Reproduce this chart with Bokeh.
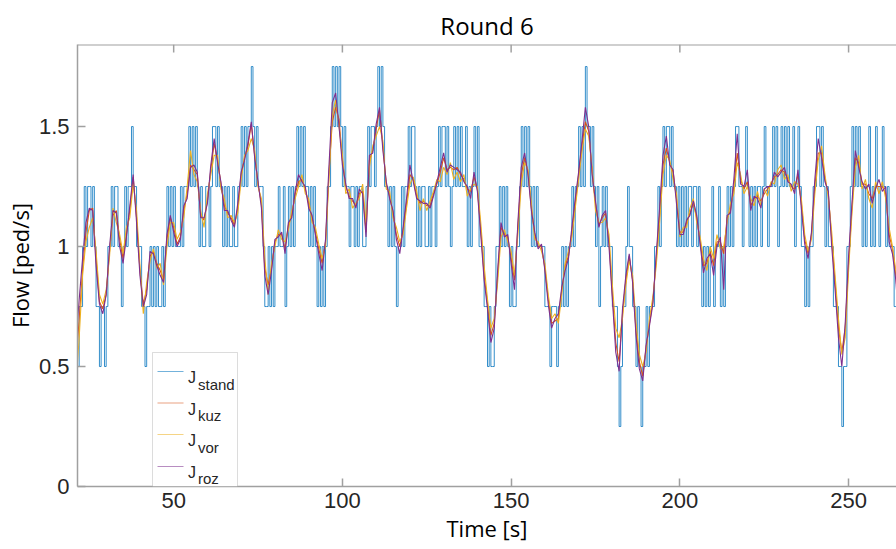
import numpy as np
from bokeh.plotting import figure
from bokeh.models import (Range1d, BoxAnnotation, Label, Span,
                          FixedTicker, NumeralTickFormatter)
from bokeh.embed import file_html
from bokeh.resources import INLINE

# ---------------- data ----------------
# smoothed flows, one value per second, t = 21 ... 265 s
t_smooth = list(range(21, 266))

J_kuz = [
    0.50, 0.70, 0.90, 1.06, 1.15, 1.16, 0.95, 0.77, 0.74, 0.80,
    0.98, 1.13, 1.15, 1.03, 0.95, 1.05, 1.15, 1.29, 1.12, 0.90,
    0.76, 0.82, 0.96, 0.98, 0.93, 0.90, 0.86, 1.03, 1.12, 1.08,
    1.01, 1.04, 1.15, 1.22, 1.34, 1.32, 1.30, 1.13, 1.11, 1.19,
    1.32, 1.43, 1.36, 1.26, 1.17, 1.14, 1.12, 1.09, 1.16, 1.30,
    1.37, 1.42, 1.51, 1.38, 1.26, 1.18, 0.91, 0.84, 0.91, 1.02,
    1.05, 1.05, 0.99, 1.09, 1.13, 1.22, 1.27, 1.28, 1.24, 1.18,
    1.12, 1.06, 0.99, 0.93, 1.02, 1.30, 1.52, 1.58, 1.53, 1.36,
    1.25, 1.21, 1.19, 1.17, 1.22, 1.23, 1.06, 1.36, 1.40, 1.49,
    1.57, 1.42, 1.26, 1.21, 1.14, 1.05, 1.00, 1.07, 1.18, 1.30,
    1.28, 1.21, 1.18, 1.19, 1.17, 1.17, 1.22, 1.26, 1.31, 1.37,
    1.32, 1.33, 1.32, 1.33, 1.30, 1.28, 1.24, 1.23, 1.29, 1.24,
    1.07, 0.88, 0.76, 0.63, 0.68, 0.88, 1.08, 1.05, 1.04, 0.95,
    0.86, 1.08, 1.30, 1.37, 1.31, 1.16, 1.05, 1.00, 1.00, 0.91,
    0.78, 0.68, 0.69, 0.70, 0.82, 0.92, 0.96, 1.06, 1.18, 1.30,
    1.42, 1.52, 1.48, 1.31, 1.18, 1.09, 1.12, 1.14, 1.02, 0.80,
    0.60, 0.52, 0.72, 0.86, 0.96, 0.86, 0.65, 0.52, 0.46, 0.58,
    0.68, 0.77, 0.95, 1.13, 1.34, 1.41, 1.35, 1.31, 1.20, 1.06,
    1.06, 1.10, 1.14, 1.18, 1.12, 1.02, 0.92, 0.93, 0.98, 0.92,
    1.02, 1.02, 0.97, 1.12, 1.15, 1.25, 1.39, 1.28, 1.24, 1.27,
    1.17, 1.20, 1.21, 1.19, 1.22, 1.24, 1.26, 1.29, 1.30, 1.32,
    1.31, 1.28, 1.25, 1.24, 1.30, 1.18, 1.03, 0.97, 1.05, 1.25,
    1.39, 1.39, 1.28, 1.22, 1.03, 0.85, 0.66, 0.56, 0.66, 0.93,
    1.16, 1.37, 1.35, 1.26, 1.26, 1.22, 1.20, 1.25, 1.25, 1.25,
    1.22, 1.05, 0.99, 0.88, 0.70,
]

J_vor = [
    0.42, 0.62, 0.88, 1.02, 1.08, 1.12, 0.98, 0.80, 0.76, 0.82,
    0.96, 1.16, 1.10, 1.05, 0.97, 1.08, 1.12, 1.26, 1.15, 0.92,
    0.72, 0.85, 0.94, 0.99, 0.91, 0.93, 0.84, 1.00, 1.10, 1.10,
    1.03, 1.06, 1.12, 1.25, 1.40, 1.30, 1.27, 1.15, 1.08, 1.22,
    1.30, 1.38, 1.38, 1.24, 1.20, 1.12, 1.13, 1.10, 1.14, 1.28,
    1.38, 1.40, 1.45, 1.40, 1.25, 1.20, 0.95, 0.80, 0.93, 1.00,
    1.07, 1.03, 1.02, 1.07, 1.15, 1.20, 1.25, 1.30, 1.22, 1.20,
    1.10, 1.08, 1.01, 0.95, 1.00, 1.28, 1.55, 1.61, 1.50, 1.38,
    1.22, 1.24, 1.16, 1.18, 1.20, 1.26, 1.10, 1.33, 1.42, 1.46,
    1.50, 1.44, 1.24, 1.23, 1.12, 1.08, 1.02, 1.05, 1.16, 1.26,
    1.29, 1.23, 1.15, 1.20, 1.15, 1.19, 1.23, 1.28, 1.27, 1.33,
    1.30, 1.35, 1.28, 1.31, 1.27, 1.30, 1.21, 1.24, 1.26, 1.25,
    1.10, 0.92, 0.78, 0.66, 0.70, 0.85, 1.04, 1.07, 1.02, 0.98,
    0.88, 1.05, 1.26, 1.35, 1.32, 1.18, 1.03, 1.02, 0.98, 0.93,
    0.80, 0.70, 0.72, 0.68, 0.80, 0.93, 0.98, 1.04, 1.16, 1.28,
    1.40, 1.49, 1.46, 1.33, 1.15, 1.10, 1.10, 1.12, 1.05, 0.84,
    0.66, 0.62, 0.70, 0.84, 0.94, 0.88, 0.68, 0.55, 0.50, 0.56,
    0.70, 0.79, 0.92, 1.10, 1.30, 1.38, 1.36, 1.28, 1.22, 1.04,
    1.08, 1.08, 1.16, 1.20, 1.10, 1.04, 0.95, 0.90, 1.00, 0.95,
    1.05, 0.99, 1.00, 1.10, 1.18, 1.22, 1.35, 1.30, 1.22, 1.25,
    1.20, 1.17, 1.23, 1.17, 1.24, 1.21, 1.27, 1.26, 1.32, 1.34,
    1.28, 1.30, 1.23, 1.27, 1.26, 1.20, 1.05, 0.98, 1.03, 1.22,
    1.36, 1.42, 1.30, 1.20, 1.06, 0.88, 0.70, 0.55, 0.62, 0.90,
    1.14, 1.33, 1.38, 1.24, 1.28, 1.20, 1.16, 1.27, 1.22, 1.27,
    1.20, 1.08, 1.00, 0.90, 0.74,
]

J_roz = [
    0.60, 0.78, 0.95, 1.10, 1.16, 1.15, 0.92, 0.76, 0.72, 0.80,
    1.00, 1.15, 1.14, 1.00, 0.93, 1.04, 1.17, 1.30, 1.10, 0.88,
    0.75, 0.80, 0.98, 0.97, 0.92, 0.88, 0.85, 1.05, 1.13, 1.06,
    1.00, 1.03, 1.17, 1.20, 1.33, 1.34, 1.31, 1.12, 1.12, 1.18,
    1.34, 1.45, 1.35, 1.27, 1.15, 1.15, 1.11, 1.08, 1.18, 1.31,
    1.36, 1.43, 1.52, 1.37, 1.27, 1.16, 0.88, 0.80, 0.90, 1.03,
    1.04, 1.06, 0.97, 1.10, 1.12, 1.23, 1.30, 1.27, 1.25, 1.16,
    1.13, 1.05, 0.97, 0.90, 1.03, 1.33, 1.60, 1.64, 1.50, 1.34,
    1.26, 1.20, 1.20, 1.16, 1.24, 1.22, 1.04, 1.38, 1.39, 1.51,
    1.58, 1.40, 1.27, 1.20, 1.15, 1.03, 0.97, 1.08, 1.20, 1.34,
    1.27, 1.20, 1.19, 1.18, 1.18, 1.16, 1.21, 1.27, 1.33, 1.39,
    1.31, 1.34, 1.33, 1.32, 1.31, 1.27, 1.25, 1.20, 1.31, 1.23,
    1.05, 0.86, 0.74, 0.60, 0.66, 0.90, 1.10, 1.04, 1.05, 0.93,
    0.82, 1.10, 1.33, 1.39, 1.30, 1.15, 1.06, 0.99, 1.01, 0.90,
    0.76, 0.66, 0.70, 0.72, 0.83, 0.90, 0.95, 1.08, 1.20, 1.31,
    1.44, 1.58, 1.50, 1.30, 1.19, 1.08, 1.13, 1.15, 1.00, 0.78,
    0.56, 0.48, 0.74, 0.88, 0.97, 0.85, 0.63, 0.49, 0.44, 0.59,
    0.67, 0.76, 0.97, 1.16, 1.38, 1.46, 1.34, 1.32, 1.18, 1.05,
    1.05, 1.11, 1.13, 1.19, 1.13, 1.01, 0.89, 0.95, 0.97, 0.88,
    1.00, 1.04, 0.82, 1.13, 1.14, 1.28, 1.47, 1.26, 1.25, 1.32,
    1.15, 1.21, 1.20, 1.16, 1.24, 1.25, 1.25, 1.31, 1.29, 1.31,
    1.33, 1.27, 1.26, 1.22, 1.32, 1.16, 1.01, 0.95, 1.06, 1.28,
    1.45, 1.37, 1.27, 1.23, 1.00, 0.82, 0.62, 0.50, 0.68, 0.96,
    1.18, 1.40, 1.33, 1.27, 1.24, 1.26, 1.18, 1.24, 1.28, 1.23,
    1.25, 1.02, 0.97, 0.86, 0.66,
]

# standard flow: step signal, one level every 0.5 s from t = 21 s,
# written as multiples of 0.25 ped/s (one row = 10 s)
stand_t0 = 21.0
stand_dt = 0.5
stand_unit = 0.25
J_stand_levels = [
    "22334545545433233234",  # 21-31
    "45455443454556554443",  # 31-41
    "32334343433434545454",  # 41-51
    "44545556565654544554",  # 51-61
    "56656554545445445565",  # 61-71
    "65667656555433434344",  # 71-81
    "54453454545656565545",  # 81-91
    "45434343455676767656",  # 91-101
    "55455454554456566567",  # 101-111
    "67655454543445455656",  # 111-121
    "65454554454554565665",  # 121-131
    "65456565655645456564",  # 131-141
    "44332322344545454343",  # 141-151
    "34456565654545444433",  # 151-161
    "32333233434344545565",  # 161-171
    "65766565453454544433",  # 171-181
    "32123345443323212232",  # 181-191
    "33344545656656554545",  # 191-201
    "45455455454343434534",  # 201-211
    "45343454545665545654",  # 211-221
    "54545545654556564565",  # 221-231
    "65655645654434344556",  # 231-241
    "65654544433322122445",  # 241-251
    "65656545456454654565",  # 251-261
    "454443333",             # 261-265
]

x_ticks = [50, 100, 150, 200, 250]
y_ticks = [0, 0.5, 1, 1.5]
series_names = ["stand", "kuz", "vor", "roz"]

# ---------------- build ----------------
codes = "".join(J_stand_levels)
t_stand = [stand_t0 + stand_dt * i for i in range(len(codes))]
J_stand = [int(c) * stand_unit for c in codes]

colors = ["#0072BD", "#D95319", "#EDB120", "#7E2F8E"]
AX = "#a0a0a0"
TXT = "#262626"

X0, X1 = 21.5, 264.2
Y0, Y1 = 0.0, 1.842
FL, FR, FT, FB = 77, 896, 44, 486

def dx(px):
    return X0 + (px - FL) / (FR - FL) * (X1 - X0)

def dy(py):
    return Y1 - (py - FT) / (FB - FT) * (Y1 - Y0)

p = figure(width=896, height=549, x_range=Range1d(X0, X1), y_range=Range1d(Y0, Y1),
           output_backend="svg", toolbar_location=None,
           min_border_left=FL, min_border_right=0, min_border_top=FT,
           min_border_bottom=549 - FB, title="Round 6")
p.background_fill_color = "white"
p.border_fill_color = "white"
p.outline_line_color = None
p.grid.visible = False

p.title.align = "center"
p.title.text_font = "Open Sans"
p.title.text_font_size = "24px"
p.title.text_font_style = "normal"
p.title.text_color = "#000000"
p.title.standoff = 6

p.xaxis.ticker = FixedTicker(ticks=x_ticks)
p.yaxis.ticker = FixedTicker(ticks=y_ticks)
p.yaxis.formatter = NumeralTickFormatter(format="0.[0]")
p.xaxis.axis_label = "Time [s]"
p.yaxis.axis_label = "Flow [ped/s]"

for ax in (p.xaxis[0], p.yaxis[0]):
    ax.axis_line_color = AX
    ax.axis_line_width = 1.5
    ax.major_tick_line_color = AX
    ax.major_tick_line_width = 1.5
    ax.major_tick_in = 8
    ax.major_tick_out = 0
    ax.minor_tick_line_color = None
    ax.major_label_text_font = "Liberation Sans"
    ax.major_label_text_font_size = "22px"
    ax.major_label_text_color = TXT
    ax.axis_label_text_font = "Open Sans"
    ax.axis_label_text_font_size = "22px"
    ax.axis_label_text_font_style = "normal"
    ax.axis_label_text_color = "#000000"
p.xaxis.major_label_standoff = 6
p.xaxis.axis_label_standoff = 2
p.yaxis.major_label_standoff = 8
p.yaxis.axis_label_standoff = 1

# top box edge with inward ticks (right edge lies outside the crop)
p.add_layout(Span(location=Y1, dimension="width", line_color=AX, line_width=2))
tick_len = 8 / (FB - FT) * (Y1 - Y0)
p.segment(x0=x_ticks, x1=x_ticks, y0=[Y1] * len(x_ticks),
          y1=[Y1 - tick_len] * len(x_ticks), line_color=AX, line_width=1.5)

p.step(t_stand, J_stand, mode="after", line_color=colors[0], line_width=1, line_alpha=0.8)
p.line(t_smooth, J_kuz, line_color=colors[1], line_width=1.1)
p.line(t_smooth, J_vor, line_color=colors[2], line_width=1.1)
p.line(t_smooth, J_roz, line_color=colors[3], line_width=1.1)

# legend (drawn by hand for subscripts)
p.add_layout(BoxAnnotation(left=dx(152), right=dx(237), top=dy(352), bottom=dy(486),
                           fill_color="white", fill_alpha=1.0,
                           line_color="#8c8c8c", line_width=1))
line_py = [371, 402.5, 434, 466]
base_py = [377, 408.5, 440, 471.5]
for name, col, lp, b in zip(series_names, colors, line_py, base_py):
    p.segment(x0=[dx(157)], x1=[dx(183)], y0=[dy(lp)], y1=[dy(lp)],
              line_color=col, line_width=1, line_alpha=0.55, level="overlay")
    p.add_layout(Label(x=dx(187.5), y=dy(b), text="J", text_font="Liberation Sans",
                       text_font_size="16px", text_color=TXT,
                       text_baseline="alphabetic"))
    p.add_layout(Label(x=dx(197.5), y=dy(b + 6.5), text=name,
                       text_font="Liberation Sans", text_font_size="15px",
                       text_color=TXT, text_baseline="alphabetic"))

open("out.html", "w").write(file_html(p, INLINE))
